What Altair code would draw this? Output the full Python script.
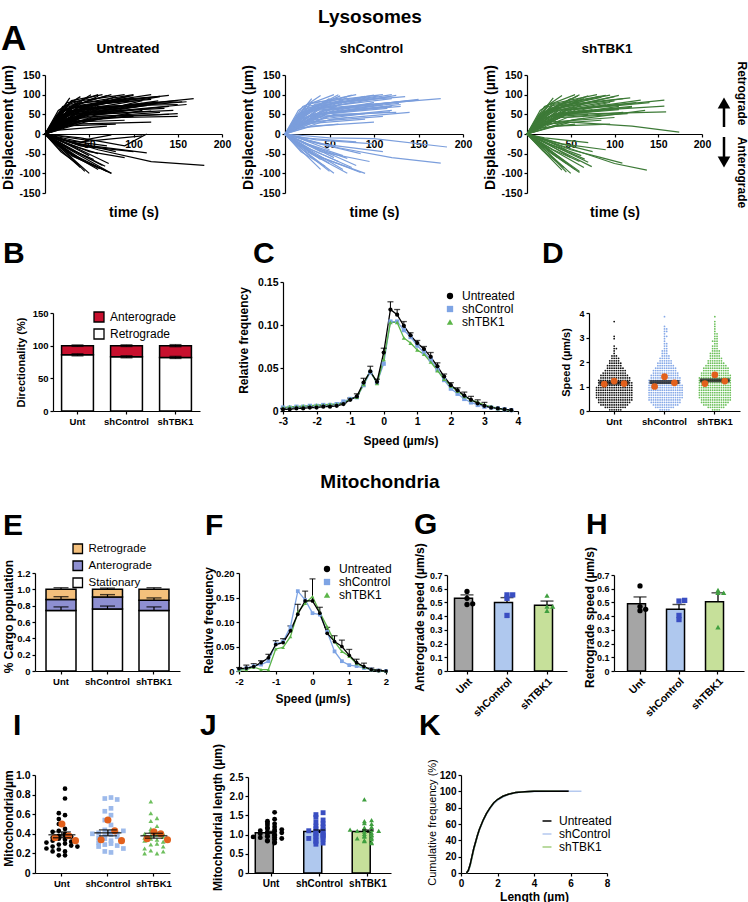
import altair as alt
import pandas as pd

FONT = "Liberation Sans"
GROUPS = ["Untreated", "shControl", "shTBK1"]
CATS = ["Unt", "shControl", "shTBK1"]
ORANGE = "#E2601C"
PAGE_W, PAGE_H = 748, 902

# ---------------- Panel A: trajectories, vertex pairs (t s, displacement um) after the origin
A_UNT = [
    (15, 60, 40, 95), (20, 70, 60, 100), (25, 80, 90, 100), (20, 60, 100, 98), (30, 70, 120, 100),
    (25, 55, 130, 95), (30, 60, 150, 85), (40, 60, 168, 90), (35, 50, 160, 75), (30, 45, 140, 70),
    (25, 40, 120, 75), (20, 35, 110, 85), (35, 65, 100, 92), (15, 45, 80, 95), (20, 50, 70, 85),
    (25, 50, 60, 75), (10, 30, 50, 70), (30, 40, 130, 55), (40, 40, 150, 45), (20, 30, 100, 45),
    (25, 30, 90, 35), (30, 25, 120, 30), (15, 20, 80, 25), (45, 30, 110, 60), (50, 55, 125, 80),
    (45, 70, 95, 97), (35, 75, 75, 100), (20, 45, 45, 90), (10, 25, 30, 85), (30, 55, 85, 65),
    (35, 45, 70, 55), (40, 35, 60, 40), (10, 15, 35, 30), (15, 10, 70, 20), (50, 50, 145, 60),
    (25, 65, 115, 92), (45, 55, 135, 65), (55, 45, 140, 50), (60, 70, 150, 75), (12, 40, 28, 92),
    (18, 55, 52, 100), (22, 62, 85, 88), (28, 48, 105, 70), (32, 58, 110, 78), (20, 65, 70, 98),
    (30, 68, 95, 85), (40, 72, 120, 88), (25, 52, 90, 60), (35, 40, 100, 62), (50, 62, 160, 82),
    (14, 50, 60, 96), (24, 72, 100, 100), (34, 78, 130, 96), (44, 66, 155, 82), (26, 58, 75, 80),
    (36, 52, 115, 72), (16, 38, 55, 68), (46, 48, 120, 58), (22, 28, 60, 40), (52, 40, 150, 52),
    (12, 22, 40, 50), (38, 30, 80, 45), (58, 62, 128, 84), (65, 80, 140, 98), (30, 85, 65, 100),
    (15, -35, 40, -85), (20, -40, 50, -100), (25, -45, 60, -90), (30, -50, 70, -95), (20, -30, 75, -100),
    (15, -25, 45, -70), (25, -35, 65, -80), (30, -40, 55, -65), (35, -35, 72, -75), (20, -20, 50, -55),
    (10, -15, 35, -60), (25, -25, 60, -50), (30, -20, 80, -45), (40, -30, 100, -45), (35, -25, 115, -48),
    (15, -10, 48, -35), (20, -15, 70, -30), (40, -20, 110, -5), (60, -40, 120, -70, 180, -80),
    (45, -15, 75, -2), (25, -50, 45, -95), (35, -60, 75, -100), (50, -45, 90, -60),
    (40, -10, 90, -30, 115, 0), (30, -55, 62, -88), (40, -50, 68, -82), (18, -45, 38, -78),
]
A_SHC = [
    (15, 60, 40, 98), (20, 70, 55, 100), (25, 75, 80, 100), (30, 80, 110, 100), (25, 60, 125, 98),
    (30, 65, 120, 90), (35, 60, 140, 85), (40, 65, 175, 90), (30, 50, 130, 75), (25, 45, 115, 70),
    (20, 40, 100, 80), (35, 70, 95, 95), (15, 45, 70, 92), (20, 55, 65, 85), (10, 30, 45, 75),
    (30, 40, 120, 60), (25, 30, 110, 45), (20, 25, 90, 38), (30, 20, 100, 30), (40, 50, 115, 65),
    (45, 60, 100, 80), (20, 50, 50, 90), (10, 25, 30, 80), (30, 50, 80, 62), (35, 45, 75, 50),
    (15, 15, 60, 25), (50, 55, 130, 70), (25, 65, 105, 97), (45, 55, 120, 70), (55, 50, 125, 55),
    (12, 40, 30, 90), (18, 50, 60, 100), (22, 55, 90, 96), (28, 45, 100, 72), (20, 62, 75, 99),
    (35, 72, 118, 95), (40, 58, 128, 78), (30, 35, 90, 52),
    (14, 50, 62, 97), (24, 70, 100, 99), (34, 76, 135, 95), (44, 62, 150, 86), (26, 56, 78, 82),
    (36, 50, 110, 74), (16, 36, 58, 70), (46, 44, 118, 56), (22, 26, 70, 42), (52, 38, 140, 55),
    (12, 20, 45, 48), (58, 64, 150, 88), (65, 80, 120, 100),
    (15, -35, 40, -90), (20, -40, 55, -100), (25, -45, 70, -100), (30, -50, 85, -98), (20, -30, 65, -90),
    (15, -25, 50, -75), (25, -35, 75, -85), (30, -40, 60, -70), (35, -35, 80, -80), (20, -20, 55, -60),
    (10, -15, 40, -65), (25, -25, 65, -55), (30, -20, 85, -50), (40, -25, 110, -45), (35, -15, 100, -25),
    (15, -10, 50, -40), (20, -10, 80, -20), (50, -10, 100, -12, 182, -33),
    (60, -35, 120, -60, 175, -74), (25, -50, 50, -95), (35, -55, 90, -100), (40, -45, 95, -70),
    (18, -45, 45, -82), (28, -30, 70, -62),
]
A_SHT = [
    (15, 60, 40, 98), (20, 70, 55, 100), (25, 75, 80, 100), (30, 75, 90, 98), (25, 60, 100, 95),
    (30, 65, 110, 90), (35, 60, 125, 80), (40, 60, 157, 86), (40, 55, 157, 71), (45, 50, 159, 56),
    (50, 30, 120, 20, 174, 5), (30, 50, 120, 70), (25, 45, 105, 65), (20, 40, 90, 75), (35, 70, 85, 93),
    (15, 45, 65, 90), (20, 55, 60, 85), (10, 30, 45, 75), (30, 40, 110, 55), (25, 30, 100, 42),
    (20, 25, 85, 35), (30, 20, 95, 25), (40, 50, 105, 62), (45, 60, 95, 80), (20, 50, 50, 90),
    (10, 25, 30, 80), (30, 50, 75, 62), (35, 45, 70, 50), (15, 15, 55, 25), (50, 55, 120, 68),
    (12, 40, 30, 92), (18, 50, 60, 100), (22, 55, 82, 96), (28, 66, 70, 97), (38, 62, 100, 84),
    (14, 50, 58, 97), (24, 70, 95, 99), (34, 72, 118, 92), (44, 60, 140, 80), (26, 55, 72, 80),
    (36, 48, 105, 70), (16, 36, 52, 66), (46, 42, 115, 52), (22, 24, 65, 40), (52, 36, 135, 60),
    (12, 20, 40, 48), (58, 64, 130, 86), (65, 78, 105, 98),
    (15, -35, 40, -92), (20, -40, 50, -100), (25, -45, 60, -98), (20, -30, 55, -90), (15, -25, 45, -75),
    (25, -35, 65, -85), (30, -40, 60, -70), (35, -35, 70, -72), (20, -20, 50, -60), (10, -15, 35, -60),
    (25, -25, 62, -55), (30, -20, 75, -45), (40, -25, 90, -40), (15, -10, 45, -40), (20, -10, 70, -22),
    (60, -45, 100, -75, 137, -92), (50, -40, 85, -60, 109, -74), (40, -45, 74, -83),
    (25, -50, 45, -97), (35, -55, 60, -95), (18, -42, 42, -85), (28, -28, 66, -64),
]
A_COLORS = ["#000000", "#7B9EDC", "#3D7A37"]

# ---------------- Panel B: directionality (%)
B_RETRO = [86, 83, 82]
B_RETRO_ERR = [1.5, 1.5, 1.5]
B_TOTAL = [100, 100, 100]
B_TOTAL_ERR = [1.0, 1.2, 1.5]

# ---------------- Panel C: relative frequency vs speed
C_SPEED = [-3.0, -2.8, -2.6, -2.4, -2.2, -2.0, -1.8, -1.6, -1.4, -1.2, -1.0, -0.8, -0.6, -0.4, -0.2,
           0.0, 0.2, 0.4, 0.6, 0.8, 1.0, 1.2, 1.4, 1.6, 1.8, 2.0, 2.2, 2.4, 2.6, 2.8, 3.0, 3.2, 3.4, 3.6, 3.8]
C_UNT = [0.002, 0.002, 0.003, 0.003, 0.004, 0.004, 0.005, 0.005, 0.006, 0.008, 0.013, 0.017, 0.033,
         0.046, 0.034, 0.068, 0.118, 0.112, 0.099, 0.088, 0.079, 0.072, 0.063, 0.052, 0.040, 0.030,
         0.024, 0.018, 0.013, 0.009, 0.006, 0.004, 0.003, 0.002, 0.001]
C_SHC = [0.004, 0.004, 0.005, 0.005, 0.006, 0.006, 0.007, 0.007, 0.008, 0.011, 0.014, 0.016, 0.030,
         0.045, 0.033, 0.055, 0.104, 0.104, 0.094, 0.086, 0.076, 0.068, 0.060, 0.048, 0.036, 0.026,
         0.020, 0.014, 0.010, 0.007, 0.005, 0.004, 0.003, 0.002, 0.001]
C_SHT = [0.004, 0.005, 0.005, 0.006, 0.006, 0.007, 0.007, 0.008, 0.008, 0.009, 0.014, 0.016, 0.031,
         0.047, 0.032, 0.060, 0.103, 0.103, 0.085, 0.079, 0.071, 0.066, 0.057, 0.047, 0.037, 0.029,
         0.023, 0.017, 0.013, 0.010, 0.007, 0.005, 0.003, 0.002, 0.001]
C_ERR = [0.001, 0.001, 0.001, 0.001, 0.001, 0.001, 0.001, 0.001, 0.001, 0.001, 0.002, 0.003, 0.005,
         0.006, 0.003, 0.005, 0.009, 0.006, 0.005, 0.003, 0.003, 0.003, 0.005, 0.004, 0.003, 0.003,
         0.003, 0.004, 0.004, 0.004, 0.004, 0.0, 0.0, 0.0, 0.0]
LINE_COLORS = ["#000000", "#7EA4E4", "#5BB548"]

# ---------------- Panel D: number of tracks per 0.1 um/s speed bin (from 0)
D_UNT_COUNTS = [6, 10, 13, 15, 16, 17, 17, 17, 17, 17, 16, 16, 15, 14, 13, 11, 10, 8, 7, 6, 5, 4, 3,
                1, 1, 2, 1, 0, 0, 1, 1, 0, 0, 0, 0, 0, 1]
D_SHC_COUNTS = [5, 9, 12, 14, 15, 16, 16, 16, 16, 16, 16, 15, 15, 14, 13, 12, 11, 10, 8, 7, 6, 5, 4,
                3, 3, 2, 2, 2, 1, 1, 2, 1, 2, 2, 1, 0, 0, 0, 1]
D_SHT_COUNTS = [4, 8, 11, 13, 14, 15, 15, 15, 15, 15, 15, 15, 15, 15, 14, 13, 12, 12, 10, 8, 7, 6, 5,
                5, 4, 3, 3, 2, 3, 2, 2, 2, 1, 1, 1, 1, 1, 0, 1]
D_MEAN = [1.15, 1.18, 1.25]
D_REP = [[1.22, 1.12, 1.10], [1.40, 1.15, 1.00], [1.48, 1.22, 1.12]]
D_COLORS = ["#111111", "#86A9E8", "#6CC05A"]

# ---------------- Panel E: cargo population fractions
E_STAT = [0.74, 0.76, 0.74]
E_STAT_ERR = [0.045, 0.035, 0.045]
E_ANTE_TOP = [0.875, 0.905, 0.865]
E_ANTE_ERR = [0.035, 0.03, 0.03]
E_TOTAL = [1.0, 1.0, 1.0]
E_TOTAL_ERR = [0.02, 0.015, 0.02]

# ---------------- Panel F: mitochondria relative frequency vs speed
F_SPEED = [-2.0, -1.8, -1.6, -1.4, -1.2, -1.0, -0.8, -0.6, -0.4, -0.2, 0.0, 0.2, 0.4, 0.6, 0.8,
           1.0, 1.2, 1.4, 1.6, 1.8, 2.0]
F_UNT = [0.005, 0.006, 0.009, 0.017, 0.027, 0.054, 0.058, 0.082, 0.116, 0.143, 0.143, 0.118, 0.077,
         0.060, 0.050, 0.032, 0.017, 0.009, 0.003, 0.001, 0.0]
F_SHC = [0.002, 0.006, 0.010, 0.013, 0.020, 0.055, 0.060, 0.090, 0.163, 0.145, 0.118, 0.115, 0.080,
         0.040, 0.020, 0.012, 0.010, 0.006, 0.003, 0.001, 0.0]
F_SHT = [0.002, 0.003, 0.008, 0.003, 0.003, 0.045, 0.048, 0.070, 0.120, 0.138, 0.152, 0.120, 0.090,
         0.060, 0.040, 0.030, 0.015, 0.008, 0.003, 0.001, 0.0]
F_ERR = [0.002, 0.006, 0.006, 0.004, 0.007, 0.008, 0.008, 0.010, 0.020, 0.020, 0.045, 0.012, 0.012,
         0.012, 0.013, 0.012, 0.007, 0.007, 0.003, 0.002, 0.0]

# ---------------- Panels G / H: speeds (um/s)
G_MEAN = [0.53, 0.50, 0.48]
G_SEM = [0.025, 0.035, 0.03]
G_PTS = [[0.58, 0.485, 0.49, 0.53], [0.555, 0.555, 0.405, 0.53], [0.55, 0.47, 0.47, 0.44]]
H_MEAN = [0.49, 0.45, 0.505]
H_SEM = [0.05, 0.035, 0.065]
H_PTS = [[0.62, 0.47, 0.45, 0.44], [0.51, 0.515, 0.375, 0.405], [0.59, 0.57, 0.57, 0.32]]
BAR_COLORS = ["#A5A5A5", "#AFC8EE", "#C6E09A"]
PT_COLORS = ["#000000", "#3A4EC2", "#3F9F3F"]
SHAPES = ["circle", "square", "triangle-up"]

# ---------------- Panel I: mitochondria per um
I_UNT = [0.86, 0.76, 0.61, 0.59, 0.55, 0.50, 0.45, 0.43, 0.40, 0.38, 0.38, 0.37, 0.36, 0.35, 0.34,
         0.33, 0.32, 0.31, 0.30, 0.29, 0.28, 0.27, 0.27, 0.25, 0.24, 0.22, 0.22, 0.18, 0.18, 0.42]
I_SHC = [0.77, 0.76, 0.75, 0.66, 0.63, 0.59, 0.54, 0.49, 0.44, 0.42, 0.41, 0.40, 0.40, 0.39, 0.38,
         0.37, 0.36, 0.35, 0.33, 0.31, 0.30, 0.29, 0.28, 0.27, 0.25, 0.22, 0.21, 0.43]
I_SHT = [0.73, 0.61, 0.56, 0.53, 0.48, 0.45, 0.43, 0.41, 0.40, 0.40, 0.39, 0.38, 0.37, 0.36, 0.35,
         0.34, 0.33, 0.32, 0.30, 0.29, 0.27, 0.25, 0.23, 0.20, 0.20, 0.22]
I_REP = [[0.50, 0.38, 0.36, 0.33], [0.54, 0.43, 0.34, 0.33], [0.42, 0.40, 0.35, 0.34]]
I_MEAN = [0.39, 0.41, 0.38]
I_SEM = [0.03, 0.03, 0.025]
I_COLORS = ["#000000", "#9DBAEB", "#6EBF5E"]

# ---------------- Panel J: mitochondrial length (um)
J_UNT = [1.58, 1.40, 1.35, 1.30, 1.28, 1.25, 1.20, 1.18, 1.15, 1.12, 1.10, 1.08, 1.06, 1.05, 1.03,
         1.00, 0.98, 0.96, 0.95, 0.93, 0.92, 0.90, 0.88, 0.85, 0.83, 0.80, 0.78, 1.13, 1.02, 0.94]
J_SHC = [1.57, 1.52, 1.45, 1.38, 1.32, 1.28, 1.22, 1.20, 1.15, 1.12, 1.10, 1.05, 1.03, 1.00, 0.98,
         0.95, 0.93, 0.90, 0.88, 0.85, 0.82, 0.78, 0.75, 1.08, 0.96]
J_SHT = [1.92, 1.38, 1.35, 1.30, 1.28, 1.20, 1.18, 1.15, 1.12, 1.10, 1.10, 1.05, 1.02, 1.00, 0.98,
         0.95, 0.92, 0.90, 0.88, 0.85, 0.83, 0.80, 0.78, 1.08, 0.97, 1.13]
J_MEAN = [1.05, 1.08, 1.08]
J_SEM = [0.035, 0.04, 0.04]

# ---------------- Panel K: cumulative frequency of length
K_LEN_UNT = [0.3, 0.4, 0.5, 0.6, 0.7, 0.8, 0.9, 1.0, 1.2, 1.4, 1.6, 1.8, 2.0, 2.3, 2.6, 3.0, 3.5, 4.0, 5.0, 5.9]
K_UNT = [0, 3, 10, 20, 30, 38, 46, 53, 64, 73, 80, 86, 90, 94, 96.5, 98.5, 99.5, 100, 100, 100]
K_LEN_SHC = [0.3, 0.4, 0.5, 0.6, 0.7, 0.8, 0.9, 1.0, 1.2, 1.4, 1.6, 1.8, 2.0, 2.3, 2.6, 3.0, 3.5, 4.0, 5.0, 6.6]
K_SHC = [0, 2, 8, 18, 28, 37, 45, 52, 63, 72, 79, 85, 89, 93, 96, 98.3, 99.4, 99.9, 100, 100]
K_LEN_SHT = [0.3, 0.4, 0.5, 0.6, 0.7, 0.8, 0.9, 1.0, 1.2, 1.4, 1.6, 1.8, 2.0, 2.3, 2.6, 3.0, 3.5, 4.0, 5.4]
K_SHT = [0, 3, 9, 19, 29, 37, 46, 53, 64, 73, 80, 86, 90, 94, 96.5, 98.5, 99.5, 100, 100]
K_COLORS = ["#000000", "#B5C9EF", "#A3CE80"]

EXPR1 = "datum.value == 0 ? '0' : format(datum.value, '.1f')"
EXPR2 = "datum.value == 0 ? '0' : format(datum.value, '.2f')"
EXPR_PLAIN = "'' + datum.value"
DUMMY = pd.DataFrame({"z": [0]})


# ---------------- helpers (all positions in page pixels)
def label(text, x, y, size=30, weight="bold", align="left", baseline="alphabetic", angle=None):
    kw = dict(text=text, fontSize=size, fontWeight=weight, align=align,
              baseline=baseline, font=FONT, color="black")
    if angle is not None:
        kw["angle"] = angle
    return alt.Chart(DUMMY).mark_text(**kw).encode(x=alt.value(x), y=alt.value(y))


def yaxis(x0, title, tx, ty, values, size=9.5, tsize=12, tweight="bold", expr=None):
    kw = dict(orient="left", offset=-x0, title=title, titleX=tx, titleY=ty, titleBaseline="middle",
              titleAlign="center", titleFontSize=tsize, titleFontWeight=tweight, values=values,
              labelFontSize=size)
    if expr is not None:
        kw["labelExpr"] = expr
    return alt.Axis(**kw)


def xaxis(yline, **kw):
    return alt.Axis(orient="bottom", offset=yline - PAGE_H, **kw)


def cat_x(x0, x1, yline, pi, po, size=9.5, angle=0, align_=None):
    sc = dict(domain=CATS, range=[x0, x1], paddingInner=pi, paddingOuter=po)
    if align_ is not None:
        sc["align"] = align_
    ax = dict(title=None, labelAngle=angle, labelFontSize=size)
    if angle != 0:
        ax.update(labelAlign="right", labelBaseline="top")
    return alt.X("cat:N", sort=CATS, scale=alt.Scale(**sc), axis=xaxis(yline, **ax))


def swarm(df, vfield, gfield, binsize, k=1.0, zig=False):
    if zig:
        off = ("((datum.rn + datum.b) % 2 == 0 ? 1 : -1) * (floor((datum.rn - 1) / 2) + 0.5) * " + str(k))
    else:
        off = f"(datum.rn % 2 == 0 ? 1 : -1) * floor(datum.rn / 2) * {k}"
    return (alt.Chart(df)
            .transform_calculate(b=f"floor(datum.{vfield} / {binsize})")
            .transform_window(rn="row_number()", groupby=[gfield, "b"])
            .transform_calculate(off=off))


def traj_df(trajs):
    rows = []
    for i, tr in enumerate(trajs):
        rows.append({"id": i, "k": 0, "t": 0, "d": 0})
        for j in range(0, len(tr), 2):
            rows.append({"id": i, "k": j // 2 + 1, "t": tr[j], "d": tr[j + 1]})
    return pd.DataFrame(rows)


def legend(x, y, size=12, **extra):
    kw = dict(orient="none", legendX=x, legendY=y, title=None, labelFontSize=size,
              labelFontWeight="normal", labelFont=FONT, labelColor="black", padding=0)
    kw.update(extra)
    return alt.Legend(**kw)


# ---------------- panels
def panel_a(trajs, color, name, x0, x1, tx, extra=()):
    df = traj_df(trajs)
    lines = alt.Chart(df).mark_line(color=color, strokeWidth=1.2).encode(
        x=alt.X("t:Q", scale=alt.Scale(domain=[0, 200], range=[x0, x1], nice=False),
                axis=xaxis(134, values=[50, 100, 150, 200], title="time (s)", titleY=78,
                           titleBaseline="middle", titleFontSize=14, labelFontSize=10.5)),
        y=alt.Y("d:Q", scale=alt.Scale(domain=[-150, 150], range=[193, 75], nice=False),
                axis=yaxis(x0, "Displacement (µm)", -37, 127, [-150, -100, -50, 0, 50, 100, 150],
                           size=10.5, tsize=14, expr=EXPR_PLAIN)),
        detail="id:N", order="k:Q")
    return alt.layer(lines, label(name, tx, 53, 13.5, align="center"), *extra)


def panel_b():
    rows = []
    for c, r, t in zip(CATS, B_RETRO, B_TOTAL):
        rows.append(dict(cat=c, seg="Retrograde", lo=0, hi=r))
        rows.append(dict(cat=c, seg="Anterograde", lo=r, hi=t))
    df = pd.DataFrame(rows)
    err = pd.DataFrame(dict(cat=CATS + CATS, v=B_RETRO + B_TOTAL, e=B_RETRO_ERR + B_TOTAL_ERR))
    X = cat_x(53, 200, 411, 0.35, 0.175, size=9.5)
    ys = alt.Scale(domain=[0, 150], range=[411, 313], nice=False)
    ax = yaxis(53, "Directionality (%)", -32, 362, [0, 50, 100, 150], size=9.5, tsize=11)
    bars = alt.Chart(df).mark_bar(stroke="black", strokeWidth=1.5).encode(
        x=X, y=alt.Y("lo:Q", scale=ys, axis=ax), y2="hi:Q",
        color=alt.Color("seg:N", scale=alt.Scale(domain=["Anterograde", "Retrograde"],
                                                 range=["#C8102E", "#FFFFFF"]),
                        legend=legend(93, 311, 12, symbolType="square", symbolSize=100,
                                      symbolStrokeColor="black", symbolStrokeWidth=1.3,
                                      rowPadding=1, labelOffset=5)))
    e = alt.Chart(err).transform_calculate(lo="datum.v - datum.e", hi="datum.v + datum.e")
    rule = e.mark_rule(color="black", strokeWidth=1.2).encode(x=X, y=alt.Y("lo:Q", scale=ys, axis=ax), y2="hi:Q")
    cap1 = e.mark_tick(color="black", size=12, thickness=1.5).encode(x=X, y=alt.Y("hi:Q", scale=ys, axis=ax))
    cap2 = e.mark_tick(color="black", size=12, thickness=1.5).encode(x=X, y=alt.Y("lo:Q", scale=ys, axis=ax))
    return alt.layer(bars, rule, cap1, cap2, label("B", 3, 263))


def freq_panel(xs, series, err, xdom, xvals, xr, yr, ydom, yvals, ytitle_pos, xtitle_y,
               leg_pos, letter, letter_pos, psize, lsize):
    rows = []
    for g, ys in zip(GROUPS, series):
        for s, f in zip(xs, ys):
            rows.append(dict(grp=g, s=s, f=f))
    df = pd.DataFrame(rows)
    X = alt.X("s:Q", scale=alt.Scale(domain=xdom, range=xr, nice=False),
              axis=xaxis(yr[0], values=xvals, title="Speed (µm/s)", titleY=xtitle_y, titleBaseline="middle",
                         titleFontSize=12, labelFontSize=lsize, labelExpr=EXPR_PLAIN))
    ax = yaxis(xr[0], "Relative frequency", ytitle_pos[0], ytitle_pos[1], yvals, size=lsize, tsize=12, expr=EXPR2)
    ys_ = alt.Scale(domain=ydom, range=yr, nice=False)
    layers = []
    for g in ["shControl", "shTBK1", "Untreated"]:
        col = LINE_COLORS[GROUPS.index(g)]
        layers.append(alt.Chart(df[df.grp == g]).mark_line(color=col, strokeWidth=1.3).encode(
            x=X, y=alt.Y("f:Q", scale=ys_, axis=ax)))
    edf = pd.DataFrame(dict(s=xs, f=series[0], e=err))
    eb = alt.Chart(edf).transform_filter("datum.e > 0").transform_calculate(hi="datum.f + datum.e")
    layers.append(eb.mark_rule(color="black", strokeWidth=1).encode(
        x=X, y=alt.Y("f:Q", scale=ys_, axis=ax), y2="hi:Q"))
    layers.append(eb.mark_tick(color="black", orient="horizontal", size=6, thickness=1.3).encode(
        x=X, y=alt.Y("hi:Q", scale=ys_, axis=ax)))
    dfo = pd.concat([df[df.grp == g] for g in ["shControl", "shTBK1", "Untreated"]])
    leg = legend(leg_pos[0], leg_pos[1], 12, symbolSize=40, rowPadding=1, labelOffset=6)
    layers.append(alt.Chart(dfo).mark_point(filled=True, size=psize, opacity=1).encode(
        x=X, y=alt.Y("f:Q", scale=ys_, axis=ax),
        color=alt.Color("grp:N", scale=alt.Scale(domain=GROUPS, range=LINE_COLORS), legend=leg),
        shape=alt.Shape("grp:N", scale=alt.Scale(domain=GROUPS, range=SHAPES), legend=leg)))
    layers.append(label(letter, letter_pos[0], letter_pos[1]))
    return alt.layer(*layers)


def panel_d():
    rows = []
    for c, counts in zip(CATS, [D_UNT_COUNTS, D_SHC_COUNTS, D_SHT_COUNTS]):
        for k, n in enumerate(counts):
            rows += [dict(cat=c, v=round((k + 0.5) * 0.1, 3))] * n
    df = pd.DataFrame(rows)
    rep = pd.DataFrame([dict(cat=c, v=v) for c, vs in zip(CATS, D_REP) for v in vs])
    mean = pd.DataFrame(dict(cat=CATS, v=D_MEAN))
    X = cat_x(589, 740, 411, 0.3, 0.15, size=9.5)
    ys = alt.Scale(domain=[0, 4], range=[411, 313], nice=False)
    ax = yaxis(589, "Speed (µm/s)", -23, 362, [0, 1, 2, 3, 4], size=9, tsize=11)
    XO = alt.XOffset("off:Q", scale=alt.Scale(domain=[-8, 8]))
    dots = swarm(df, "v", "cat", 0.1).mark_circle(size=3.2, opacity=1).encode(
        x=X, xOffset=XO, y=alt.Y("v:Q", scale=ys, axis=ax),
        color=alt.Color("cat:N", scale=alt.Scale(domain=CATS, range=D_COLORS), legend=None))
    mtick = alt.Chart(mean).mark_tick(color="black", size=30, thickness=4).encode(
        x=X, y=alt.Y("v:Q", scale=ys, axis=ax))
    reps = swarm(rep, "v", "cat", 100, k=4.5).mark_circle(size=45, color=ORANGE, opacity=1).encode(
        x=X, xOffset=XO, y=alt.Y("v:Q", scale=ys, axis=ax))
    return alt.layer(dots, mtick, reps, label("D", 542, 263))


def panel_e():
    rows = []
    for c, s, a, t in zip(CATS, E_STAT, E_ANTE_TOP, E_TOTAL):
        rows += [dict(cat=c, seg="Stationary", lo=0, hi=s),
                 dict(cat=c, seg="Anterograde", lo=s, hi=a),
                 dict(cat=c, seg="Retrograde", lo=a, hi=t)]
    df = pd.DataFrame(rows)
    err = pd.DataFrame(dict(cat=CATS * 3, v=E_STAT + E_ANTE_TOP + E_TOTAL,
                            e=E_STAT_ERR + E_ANTE_ERR + E_TOTAL_ERR))
    X = cat_x(35, 180, 671, 0.355, 0.237, size=9.5)
    ys = alt.Scale(domain=[0, 1.2], range=[671, 573], nice=False)
    ax = yaxis(35, "% Cargo population", -27, 616, [0, 0.2, 0.4, 0.6, 0.8, 1.0, 1.2], size=9.5,
               tsize=12, expr=EXPR1)
    bars = alt.Chart(df).mark_bar(stroke="black", strokeWidth=1.5).encode(
        x=X, y=alt.Y("lo:Q", scale=ys, axis=ax), y2="hi:Q",
        color=alt.Color("seg:N", scale=alt.Scale(domain=["Retrograde", "Anterograde", "Stationary"],
                                                 range=["#F4C07C", "#8E8FD1", "#FFFFFF"]),
                        legend=legend(72, 543, 11.5, symbolType="square", symbolSize=90,
                                      symbolStrokeColor="black", symbolStrokeWidth=1.3,
                                      rowPadding=1, labelOffset=5)))
    e = alt.Chart(err).transform_calculate(hi="datum.v + datum.e")
    rule = e.mark_rule(color="black", strokeWidth=1.2).encode(x=X, y=alt.Y("v:Q", scale=ys, axis=ax), y2="hi:Q")
    cap = e.mark_tick(color="black", size=15, thickness=1.4).encode(x=X, y=alt.Y("hi:Q", scale=ys, axis=ax))
    return alt.layer(bars, rule, cap, label("E", 3, 535),
                     label("Mitochondria", 380, 488, 19, align="center"))


def panel_speed(means, sems, pts, title, letter, x0, x1, pi, po, tx, lx):
    bdf = pd.DataFrame(dict(cat=CATS, m=means, e=sems))
    pdf = pd.DataFrame([dict(cat=c, m=v) for c, vs in zip(CATS, pts) for v in vs])
    X = cat_x(x0, x1, 671, pi, po, size=10.5, angle=-45)
    ys = alt.Scale(domain=[0, 0.7], range=[671, 575], nice=False)
    ax = yaxis(x0, title, tx, 617, [0, 0.1, 0.2, 0.3, 0.4, 0.5, 0.6, 0.7], size=9, tsize=12, expr=EXPR1)
    bars = alt.Chart(bdf).mark_bar(stroke="black", strokeWidth=1.5).encode(
        x=X, y=alt.Y("m:Q", scale=ys, axis=ax),
        color=alt.Color("cat:N", scale=alt.Scale(domain=CATS, range=BAR_COLORS), legend=None))
    e = alt.Chart(bdf).transform_calculate(hi="datum.m + datum.e")
    rule = e.mark_rule(color="black", strokeWidth=1.3).encode(x=X, y=alt.Y("m:Q", scale=ys, axis=ax), y2="hi:Q")
    cap = e.mark_tick(color="black", size=13, thickness=1.4).encode(x=X, y=alt.Y("hi:Q", scale=ys, axis=ax))
    XO = alt.XOffset("off:Q", scale=alt.Scale(domain=[-2.2, 2.2]))
    points = swarm(pdf, "m", "cat", 0.025).mark_point(filled=True, size=28, opacity=1).encode(
        x=X, xOffset=XO, y=alt.Y("m:Q", scale=ys, axis=ax),
        fill=alt.Fill("cat:N", scale=alt.Scale(domain=CATS, range=PT_COLORS), legend=None),
        shape=alt.Shape("cat:N", scale=alt.Scale(domain=CATS, range=SHAPES), legend=None))
    return alt.layer(bars, rule, cap, points, label(letter, lx, 534))


def panel_i():
    pdf = pd.DataFrame([dict(cat=c, v=v) for c, vs in zip(CATS, [I_UNT, I_SHC, I_SHT]) for v in vs])
    rdf = pd.DataFrame([dict(cat=c, v=v) for c, vs in zip(CATS, I_REP) for v in vs])
    mdf = pd.DataFrame(dict(cat=CATS, m=I_MEAN, e=I_SEM))
    X = cat_x(35, 170, 873, 0.3, 0.1175, size=9.5, align_=1)
    ys = alt.Scale(domain=[0, 1.0], range=[873, 775], nice=False)
    ax = yaxis(35, "Mitochondria/µm", -27, 818, [0, 0.2, 0.4, 0.6, 0.8, 1.0], size=10.5, tsize=12, expr=EXPR1)
    XO = alt.XOffset("off:Q", scale=alt.Scale(domain=[-2.6, 2.6]))
    pts = swarm(pdf, "v", "cat", 0.05, zig=True).mark_point(filled=True, size=22, opacity=1).encode(
        x=X, xOffset=XO, y=alt.Y("v:Q", scale=ys, axis=ax),
        color=alt.Color("cat:N", scale=alt.Scale(domain=CATS, range=I_COLORS), legend=None),
        shape=alt.Shape("cat:N", scale=alt.Scale(domain=CATS, range=SHAPES), legend=None))
    reps = swarm(rdf, "v", "cat", 100, k=1.1).mark_circle(size=50, color=ORANGE, opacity=1).encode(
        x=X, xOffset=XO, y=alt.Y("v:Q", scale=ys, axis=ax))
    e = alt.Chart(mdf).transform_calculate(lo="datum.m - datum.e", hi="datum.m + datum.e")
    mt = e.mark_tick(color="black", size=27, thickness=1.6).encode(x=X, y=alt.Y("m:Q", scale=ys, axis=ax))
    rule = e.mark_rule(color="black", strokeWidth=1.3).encode(x=X, y=alt.Y("lo:Q", scale=ys, axis=ax), y2="hi:Q")
    c1 = e.mark_tick(color="black", size=18, thickness=1.4).encode(x=X, y=alt.Y("lo:Q", scale=ys, axis=ax))
    c2 = e.mark_tick(color="black", size=18, thickness=1.4).encode(x=X, y=alt.Y("hi:Q", scale=ys, axis=ax))
    return alt.layer(pts, reps, mt, rule, c1, c2, label("I", 13, 735))


def panel_j():
    pdf = pd.DataFrame([dict(cat=c, m=v) for c, vs in zip(CATS, [J_UNT, J_SHC, J_SHT]) for v in vs])
    bdf = pd.DataFrame(dict(cat=CATS, m=J_MEAN, e=J_SEM))
    X = cat_x(248, 391, 873, 0.35, 0.15, size=10)
    ys = alt.Scale(domain=[0, 2.5], range=[873, 777], nice=False)
    ax = yaxis(248, "Mitochondrial length (µm)", -31, 817, [0, 0.5, 1.0, 1.5, 2.0, 2.5], size=10,
               tsize=12, expr=EXPR1)
    bars = alt.Chart(bdf).mark_bar(stroke="black", strokeWidth=1.5).encode(
        x=X, y=alt.Y("m:Q", scale=ys, axis=ax),
        color=alt.Color("cat:N", scale=alt.Scale(domain=CATS, range=BAR_COLORS), legend=None))
    XO = alt.XOffset("off:Q", scale=alt.Scale(domain=[-2.2, 2.2]))
    points = swarm(pdf, "m", "cat", 0.05, zig=True).mark_point(filled=True, size=24, opacity=1).encode(
        x=X, xOffset=XO, y=alt.Y("m:Q", scale=ys, axis=ax),
        fill=alt.Fill("cat:N", scale=alt.Scale(domain=CATS, range=PT_COLORS), legend=None),
        shape=alt.Shape("cat:N", scale=alt.Scale(domain=CATS, range=SHAPES), legend=None))
    e = alt.Chart(bdf).transform_calculate(lo="datum.m - datum.e", hi="datum.m + datum.e")
    rule = e.mark_rule(color="black", strokeWidth=1.3).encode(x=X, y=alt.Y("lo:Q", scale=ys, axis=ax), y2="hi:Q")
    c1 = e.mark_tick(color="black", size=12, thickness=1.4).encode(x=X, y=alt.Y("hi:Q", scale=ys, axis=ax))
    return alt.layer(bars, points, rule, c1, label("J", 200, 735))


def panel_k():
    rows = []
    for g, xs, ys_ in zip(GROUPS, [K_LEN_UNT, K_LEN_SHC, K_LEN_SHT], [K_UNT, K_SHC, K_SHT]):
        for x, y in zip(xs, ys_):
            rows.append(dict(grp=g, x=x, y=y))
    df = pd.DataFrame(rows)
    X = alt.X("x:Q", scale=alt.Scale(domain=[0, 8], range=[461, 607], nice=False),
              axis=xaxis(873, values=[0, 2, 4, 6, 8], title="Length (µm)", titleY=23, titleBaseline="middle",
                         titleFontSize=12, labelFontSize=10))
    ys = alt.Scale(domain=[0, 120], range=[873, 775], nice=False)
    ax = yaxis(461, "Cumulative frequency (%)", -29, 822, [0, 20, 40, 60, 80, 100, 120], size=10,
               tsize=11, tweight="normal")
    lines = alt.Chart(df).mark_line(strokeWidth=1.5).encode(
        x=X, y=alt.Y("y:Q", scale=ys, axis=ax),
        color=alt.Color("grp:N", scale=alt.Scale(domain=GROUPS, range=K_COLORS),
                        legend=legend(541, 815, 12, symbolType="stroke", symbolStrokeWidth=1.5,
                                      symbolSize=80, rowPadding=1, labelOffset=6)))
    black = alt.Chart(df[df.grp == "Untreated"]).mark_line(color="black", strokeWidth=1.5).encode(
        x=X, y=alt.Y("y:Q", scale=ys, axis=ax))
    return alt.layer(lines, black, label("K", 419, 735))


# ---------------- Assemble
arrows = [
    alt.Chart(DUMMY).mark_rule(color="black", strokeWidth=2.5).encode(
        x=alt.value(724), y=alt.value(108), y2=alt.value(127)),
    alt.Chart(DUMMY).mark_point(shape="triangle-up", filled=True, size=160, color="black", opacity=1).encode(
        x=alt.value(724), y=alt.value(103)),
    alt.Chart(DUMMY).mark_rule(color="black", strokeWidth=2.5).encode(
        x=alt.value(724), y=alt.value(137), y2=alt.value(157)),
    alt.Chart(DUMMY).mark_point(shape="triangle-down", filled=True, size=160, color="black", opacity=1).encode(
        x=alt.value(724), y=alt.value(162)),
    label("Retrograde", 742, 93.5, 12, align="center", baseline="middle", angle=90),
    label("Anterograde", 742, 172.5, 12, align="center", baseline="middle", angle=90),
]

A1 = panel_a(A_UNT, A_COLORS[0], "Untreated", 45, 222, 128,
             [label("A", 1, 50, 35), label("Lysosomes", 370, 23, 19, align="center")])
A2 = panel_a(A_SHC, A_COLORS[1], "shControl", 285, 463, 371.5)
A3 = panel_a(A_SHT, A_COLORS[2], "shTBK1", 527, 702, 607, arrows)

B = panel_b()
C = freq_panel(C_SPEED, [C_UNT, C_SHC, C_SHT], C_ERR, [-3, 4], list(range(-3, 5)), [283, 518],
               [411, 282], [0, 0.15], [0, 0.05, 0.10, 0.15], (-40, 340), 29, (444, 290), "C",
               (253, 263), 18, 10.5)
D = panel_d()
E = panel_e()
F = freq_panel(F_SPEED, [F_UNT, F_SHC, F_SHT], F_ERR, [-2, 2], [-2, -1, 0, 1, 2], [239, 386],
               [671, 573], [0, 0.2], [0, 0.05, 0.10, 0.15, 0.20], (-31, 620), 27, (321, 563), "F",
               (205, 535), 14, 9.5)
G = panel_speed(G_MEAN, G_SEM, G_PTS, "Anterograde speed (µm/s)", "G", 447, 567, 0.375, 0.1875, -28, 414)
H = panel_speed(H_MEAN, H_SEM, H_PTS, "Retrograde speed (µm/s)", "H", 614, 744, 0.36, 0.347, -25, 586)
I = panel_i()
J = panel_j()
K = panel_k()

chart = alt.layer(A1, A2, A3, B, C, D, E, F, G, H, I, J, K).resolve_scale(
    x="independent", y="independent", color="independent", fill="independent",
    shape="independent", xOffset="independent"
).properties(
    width=PAGE_W, height=PAGE_H, padding=0, autosize=alt.AutoSizeParams(type="none")
).configure_view(strokeWidth=0).configure_axis(
    labelFont=FONT, titleFont=FONT, labelColor="black", titleColor="black",
    domainColor="black", tickColor="black", domainWidth=1.2, tickWidth=1.2, tickSize=3,
    labelFontWeight="bold", titleFontWeight="bold", grid=False, labelPadding=2,
    labelFlush=False, labelOverlap=False
).configure_legend(labelFont=FONT, labelColor="black")

chart.save("out.html", embed_options={"renderer": "svg", "actions": False})
